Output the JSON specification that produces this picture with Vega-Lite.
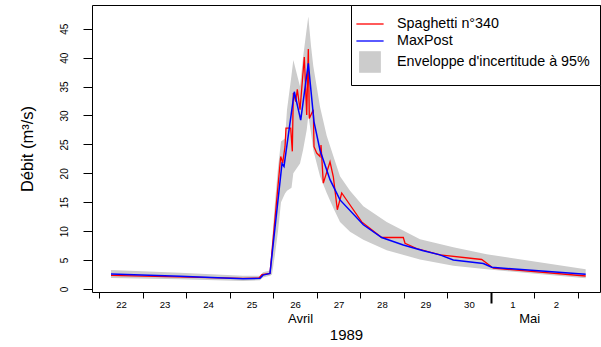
{
  "$schema": "https://vega.github.io/schema/vega-lite/v6.json",
  "width": 508,
  "height": 287,
  "autosize": {"type": "none"},
  "padding": {"left": 92, "top": 5, "right": 1, "bottom": 55},
  "background": "white",
  "config": {
    "font": "Liberation Sans",
    "view": {"stroke": "black", "strokeWidth": 1},
    "axis": {"domain": false, "grid": false, "tickColor": "black", "labelColor": "black", "titleColor": "black", "titleFontWeight": "normal", "labelFont": "Liberation Sans", "titleFont": "Liberation Sans"},
    "axisY": {"tickCount": 10, "tickSize": 9, "labelAngle": -90, "labelAlign": "center", "labelBaseline": "bottom", "labelPadding": 14, "labelFontSize": 10, "labelFlush": false, "labelOverlap": false, "titleFontSize": 16.5, "titlePadding": 24},
    "legend": {"orient": "top-right", "offset": 0, "title": null, "strokeColor": "black", "fillColor": "white", "padding": 9.5, "labelFontSize": 14.3, "labelColor": "black", "labelOffset": 17.5, "rowPadding": 0, "labelLimit": 300, "symbolStrokeWidth": 1.3, "symbolOpacity": 1}
  },
  "datasets": {
    "band": [
      {"t": 22.269, "lo": 1.9, "hi": 3.3},
      {"t": 23.856, "lo": 1.7, "hi": 2.8},
      {"t": 25.304, "lo": 1.4, "hi": 2.3},
      {"t": 25.695, "lo": 1.5, "hi": 2.3},
      {"t": 25.764, "lo": 2.0, "hi": 2.9},
      {"t": 25.925, "lo": 2.3, "hi": 3.2},
      {"t": 25.971, "lo": 2.5, "hi": 8},
      {"t": 26.040, "lo": 6, "hi": 15},
      {"t": 26.109, "lo": 10, "hi": 21},
      {"t": 26.178, "lo": 15, "hi": 25.5},
      {"t": 26.270, "lo": 16.5, "hi": 26},
      {"t": 26.316, "lo": 17, "hi": 31},
      {"t": 26.420, "lo": 17.5, "hi": 37},
      {"t": 26.461, "lo": 20, "hi": 39.6},
      {"t": 26.615, "lo": 21.7, "hi": 35},
      {"t": 26.684, "lo": 24, "hi": 40},
      {"t": 26.769, "lo": 27.5, "hi": 45},
      {"t": 26.806, "lo": 30, "hi": 47.1},
      {"t": 26.868, "lo": 27, "hi": 42},
      {"t": 26.921, "lo": 24, "hi": 38.5},
      {"t": 27.075, "lo": 19.5, "hi": 31.5},
      {"t": 27.229, "lo": 16.6, "hi": 26.5},
      {"t": 27.381, "lo": 14, "hi": 23},
      {"t": 27.535, "lo": 11.6, "hi": 19.5},
      {"t": 27.765, "lo": 9.9, "hi": 17},
      {"t": 28.071, "lo": 8.5, "hi": 14.3},
      {"t": 28.608, "lo": 6.7, "hi": 11.6},
      {"t": 29.374, "lo": 5.1, "hi": 8.6},
      {"t": 30.140, "lo": 4.0, "hi": 7.2},
      {"t": 30.908, "lo": 3.4, "hi": 6.0},
      {"t": 33.184, "lo": 1.85, "hi": 3.4}
    ],
    "red": [
      {"t": 22.269, "v": 2.34},
      {"t": 25.304, "v": 1.82},
      {"t": 25.672, "v": 1.9},
      {"t": 25.741, "v": 2.5},
      {"t": 25.925, "v": 2.7},
      {"t": 26.171, "v": 22.9},
      {"t": 26.217, "v": 21.8},
      {"t": 26.270, "v": 24.6},
      {"t": 26.293, "v": 27.8},
      {"t": 26.401, "v": 27.8},
      {"t": 26.438, "v": 23.8},
      {"t": 26.461, "v": 33.9},
      {"t": 26.516, "v": 32.4},
      {"t": 26.553, "v": 34.5},
      {"t": 26.615, "v": 31.0},
      {"t": 26.714, "v": 40.1},
      {"t": 26.769, "v": 30.1},
      {"t": 26.806, "v": 41.5},
      {"t": 26.829, "v": 29.5},
      {"t": 26.921, "v": 31.0},
      {"t": 26.937, "v": 24.6},
      {"t": 26.999, "v": 23.5},
      {"t": 27.075, "v": 22.9},
      {"t": 27.098, "v": 24.9},
      {"t": 27.151, "v": 18.3},
      {"t": 27.305, "v": 22.0},
      {"t": 27.381, "v": 19.4},
      {"t": 27.473, "v": 13.7},
      {"t": 27.574, "v": 16.6},
      {"t": 28.034, "v": 11.6},
      {"t": 28.494, "v": 8.9},
      {"t": 28.990, "v": 8.9},
      {"t": 29.029, "v": 7.9},
      {"t": 29.298, "v": 7.0},
      {"t": 29.834, "v": 5.9},
      {"t": 30.793, "v": 5.1},
      {"t": 31.060, "v": 3.6},
      {"t": 33.184, "v": 2.25}
    ],
    "blue": [
      {"t": 22.269, "v": 2.6},
      {"t": 23.856, "v": 2.2},
      {"t": 25.304, "v": 1.78},
      {"t": 25.695, "v": 1.85},
      {"t": 25.764, "v": 2.4},
      {"t": 25.925, "v": 2.7},
      {"t": 26.201, "v": 21.7},
      {"t": 26.247, "v": 21.2},
      {"t": 26.484, "v": 34.1},
      {"t": 26.631, "v": 29.2},
      {"t": 26.806, "v": 39.0},
      {"t": 26.937, "v": 28.9},
      {"t": 27.075, "v": 24.0},
      {"t": 27.305, "v": 18.9},
      {"t": 27.535, "v": 15.4},
      {"t": 28.071, "v": 11.1},
      {"t": 28.494, "v": 8.9},
      {"t": 28.990, "v": 7.6},
      {"t": 29.450, "v": 6.6},
      {"t": 29.834, "v": 5.9},
      {"t": 30.140, "v": 5.0},
      {"t": 30.830, "v": 4.4},
      {"t": 31.023, "v": 3.75},
      {"t": 33.184, "v": 2.54}
    ]
  },
  "layer": [
    {
      "data": {"name": "band"},
      "mark": {"type": "area", "opacity": 1, "color": "#cccccc"},
      "encoding": {
        "x": {
          "field": "t", "type": "quantitative",
          "scale": {"domain": [21.832, 33.513], "nice": false, "zero": false},
          "axis": {
            "orient": "bottom", "title": null,
            "values": [22, 23, 24, 25, 26, 27, 28, 29, 30, 31, 32, 33],
            "tickSize": 6, "tickWidth": 1,
            "labelExpr": "datum.value >= 33 ? '' : (datum.value >= 31 ? '' + (datum.value - 30) : '' + datum.value)",
            "labelOffset": 21.7, "labelFontSize": 9.6, "labelPadding": 1.5,
            "labelFlush": false, "labelOverlap": false, "labelBound": false
          }
        },
        "y": {
          "field": "lo", "type": "quantitative",
          "scale": {"domain": [-0.52, 49.1], "nice": false, "zero": false},
          "axis": {"title": "Débit (m³/s)", "values": [0, 5, 10, 15, 20, 25, 30, 35, 40, 45], "labelAngle": -90, "labelAlign": "center", "labelBaseline": "bottom"}
        },
        "y2": {"field": "hi"}
      }
    },
    {
      "data": {"name": "red"},
      "mark": {"type": "line", "strokeWidth": 1.3, "color": "#ff0000"},
      "encoding": {
        "x": {"field": "t", "type": "quantitative", "axis": null},
        "y": {"field": "v", "type": "quantitative", "axis": {"title": "Débit (m³/s)", "values": [0, 5, 10, 15, 20, 25, 30, 35, 40, 45], "labelAngle": -90, "labelAlign": "center", "labelBaseline": "bottom"}}
      }
    },
    {
      "data": {"name": "blue"},
      "mark": {"type": "line", "strokeWidth": 1.5, "color": "#0000ff"},
      "encoding": {
        "x": {
          "field": "t", "type": "quantitative",
          "axis": {
            "orient": "bottom", "title": "1989", "titleFontSize": 15, "titlePadding": 2,
            "values": [26.615, 31, 31.885],
            "tickSize": 11, "tickWidth": 2,
            "tickOpacity": {"condition": {"test": "datum.value == 31", "value": 1}, "value": 0},
            "labelExpr": "datum.value < 28 ? 'Avril' : (datum.value > 31.5 ? 'Mai' : '')",
            "labelFontSize": 13, "labelPadding": 9,
            "labelFlush": false, "labelOverlap": false, "labelBound": false
          }
        },
        "y": {"field": "v", "type": "quantitative", "axis": {"title": "Débit (m³/s)", "values": [0, 5, 10, 15, 20, 25, 30, 35, 40, 45], "labelAngle": -90, "labelAlign": "center", "labelBaseline": "bottom"}}
      }
    },
    {
      "data": {"name": "blue"},
      "mark": {"type": "point", "opacity": 0, "filled": true},
      "encoding": {
        "x": {"field": "t", "type": "quantitative", "axis": null},
        "y": {"field": "v", "type": "quantitative", "axis": {"title": "Débit (m³/s)", "values": [0, 5, 10, 15, 20, 25, 30, 35, 40, 45], "labelAngle": -90, "labelAlign": "center", "labelBaseline": "bottom"}},
        "fill": {
          "datum": "MaxPost", "type": "nominal",
          "scale": {"domain": ["Spaghetti n°340", "MaxPost", "Enveloppe d'incertitude à 95%"], "range": ["#ff0000", "#0000ff", "#cccccc"]},
          "legend": {"title": null}
        },
        "stroke": {
          "datum": "MaxPost", "type": "nominal",
          "scale": {"domain": ["Spaghetti n°340", "MaxPost", "Enveloppe d'incertitude à 95%"], "range": ["#ff0000", "#0000ff", "#cccccc"]},
          "legend": {"title": null}
        },
        "shape": {
          "datum": "MaxPost", "type": "nominal",
          "scale": {"domain": ["Spaghetti n°340", "MaxPost", "Enveloppe d'incertitude à 95%"], "range": ["M-1.6,0H1.6", "M-1.6,0H1.6", "M-1.2,-1.2H1.2V1.2H-1.2Z"]},
          "legend": {"title": null}
        },
        "size": {
          "datum": "MaxPost", "type": "ordinal",
          "scale": {"domain": ["Spaghetti n°340", "MaxPost", "Enveloppe d'incertitude à 95%"], "range": [289, 289, 289]},
          "legend": {"title": null}
        }
      }
    }
  ],
  "resolve": {"axis": {"x": "independent"}}
}
